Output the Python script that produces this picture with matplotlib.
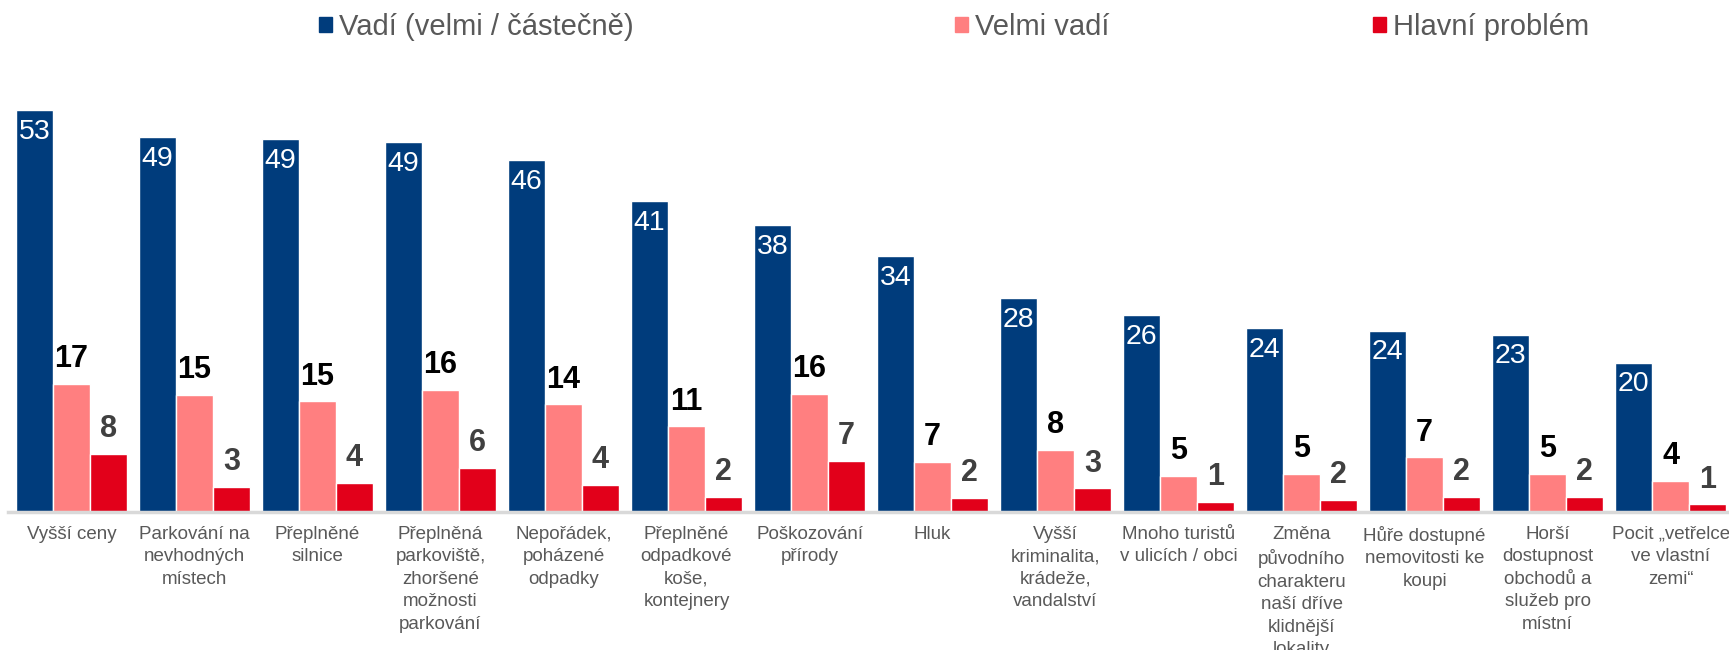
import matplotlib.pyplot as plt
from matplotlib.patches import Patch
import numpy as np

plt.rcParams['font.family'] = ['Liberation Sans', 'DejaVu Sans']

categories = [
    "Vyšší ceny",
    "Parkování na\nnevhodných\nmístech",
    "Přeplněné\nsilnice",
    "Přeplněná\nparkoviště,\nzhoršené\nmožnosti\nparkování",
    "Nepořádek,\npoházené\nodpadky",
    "Přeplněné\nodpadkové\nkoše,\nkontejnery",
    "Poškozování\npřírody",
    "Hluk",
    "Vyšší\nkriminalita,\nkrádeže,\nvandalství",
    "Mnoho turistů\nv ulicích / obci",
    "Změna\npůvodního\ncharakteru\nnaší dříve\nklidnější\nlokality",
    "Hůře dostupné\nnemovitosti ke\nkoupi",
    "Horší\ndostupnost\nobchodů a\nslužeb pro\nmístní",
    "Pocit „vetřelce\nve vlastní\nzemi“",
]
# values; labels show them rounded
vadi = [53.0, 49.4, 49.2, 48.8, 46.4, 41.0, 37.8, 33.7, 28.2, 26.0, 24.2, 23.9, 23.4, 19.7]
velmi_vadi = [16.9, 15.4, 14.6, 16.1, 14.2, 11.3, 15.6, 6.6, 8.2, 4.8, 5.0, 7.2, 5.0, 4.1]
hlavni = [7.7, 3.3, 3.8, 5.8, 3.6, 2.0, 6.7, 1.9, 3.1, 1.3, 1.6, 2.0, 2.0, 1.0]
series_names = ["Vadí (velmi / částečně)", "Velmi vadí", "Hlavní problém"]

BLUE = '#003C7C'
PINK = '#FF7F80'
RED = '#E2001A'
GRAY = '#595959'

W, H = 1729, 650
fig = plt.figure(figsize=(W / 100, H / 100), dpi=100)
ax = fig.add_axes([8 / W, 1 - 512 / H, 1 - 8 / W, 512 / H])

x = np.arange(len(categories))
w = 0.3
b1 = ax.bar(x - w, vadi, w, color=BLUE, edgecolor='white', linewidth=1)
b2 = ax.bar(x, velmi_vadi, w, color=PINK, edgecolor='white', linewidth=1)
b3 = ax.bar(x + w, hlavni, w, color=RED, edgecolor='white', linewidth=1)

ax.bar_label(b1, fmt='%.0f', padding=-25, color='white', fontsize=20.5)
ax.bar_label(b2, fmt='%.0f', padding=7, color='black', fontsize=22, fontweight='bold')
ax.bar_label(b3, fmt='%.0f', padding=7, color='#404040', fontsize=22, fontweight='bold')

ax.set_xlim(-0.515, 13.474)
ax.set_ylim(0, 67.5)
ax.set_xticks(x)
ax.set_xticklabels(categories, fontsize=13.5, color=GRAY, linespacing=1.42)
ax.tick_params(axis='x', length=0, pad=10)
ax.set_yticks([])
for s in ['top', 'right', 'left']:
    ax.spines[s].set_visible(False)
ax.spines['bottom'].set_color('#D9D9D9')
ax.spines['bottom'].set_linewidth(2.5)

# legend entries are spaced unevenly in the original, so one legend each
for name, col, mx in zip(series_names, [BLUE, PINK, RED], [319, 955, 1373]):
    fig.legend(handles=[Patch(color=col)], labels=[name], loc='center left',
               bbox_to_anchor=(mx / W, 1 - 27 / H), frameon=False,
               fontsize=21, labelcolor=GRAY, handlelength=0.45,
               handleheight=0.45, handletextpad=0.25, borderpad=0,
               borderaxespad=0)

fig.savefig('out.png', dpi=100)
